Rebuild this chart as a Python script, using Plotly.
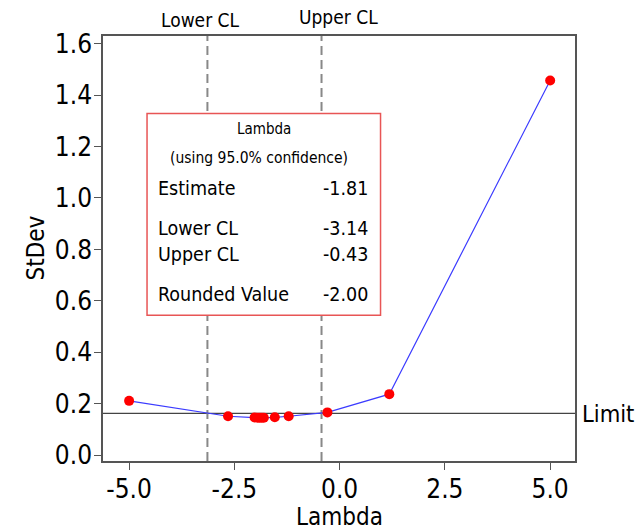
import plotly.graph_objects as go

# Data
lambdas = [-5.0, -2.65, -2.02, -1.95, -1.90, -1.85, -1.80, -1.54, -1.21, -0.29, 1.18, 5.0]
stdevs = [0.211, 0.151, 0.146, 0.145, 0.145, 0.145, 0.145, 0.147, 0.151, 0.166, 0.237, 1.457]
limit = 0.162
lower_cl = -3.14
upper_cl = -0.43
estimate = -1.81
rounded = -2.00
x_ticks = [-5.0, -2.5, 0.0, 2.5, 5.0]
x_ticktext = ["-5.0", "-2.5", "0.0", "2.5", "5.0"]
y_ticks = [0.0, 0.2, 0.4, 0.6, 0.8, 1.0, 1.2, 1.4, 1.6]
y_ticktext = ["0.0", "0.2", "0.4", "0.6", "0.8", "1.0", "1.2", "1.4", "1.6"]
box_labels = ["Estimate", "Lower CL", "Upper CL", "Rounded Value"]
box_values = [estimate, lower_cl, upper_cl, rounded]
x_title = "Lambda"
y_title = "StDev"

FONT = "DejaVu Sans Condensed, Liberation Sans, Arial, sans-serif"
AX = "#555555"

fig = go.Figure()
fig.add_trace(go.Scatter(
    x=lambdas, y=stdevs, mode="lines+markers",
    line=dict(color="#3b3bff", width=1.2),
    marker=dict(color="#ff0000", size=10),
    hoverinfo="x+y",
))

# Limit line
fig.add_shape(type="line", xref="paper", yref="y", x0=0, x1=1, y0=limit, y1=limit,
              line=dict(color="#444444", width=1.3), layer="below")
fig.add_annotation(xref="paper", yref="y", x=1, y=limit, xanchor="left", yanchor="middle",
                   xshift=5, yshift=-1, text="Limit", showarrow=False,
                   font=dict(family=FONT, size=23.5, color="#000"))

# CL dashed lines
for v in (lower_cl, upper_cl):
    fig.add_shape(type="line", xref="x", yref="paper", x0=v, x1=v, y0=0, y1=1,
                  line=dict(color="#888888", width=2, dash="9px,5px"), layer="below")
fig.add_annotation(xref="x", yref="paper", x=lower_cl, y=1, yanchor="bottom", xshift=-7, yshift=3,
                   text="Lower CL", showarrow=False, font=dict(family=FONT, size=19, color="#000"))
fig.add_annotation(xref="x", yref="paper", x=upper_cl, y=1, yanchor="bottom", xshift=17, yshift=6,
                   text="Upper CL", showarrow=False, font=dict(family=FONT, size=19, color="#000"))

# Axis titles
fig.add_annotation(xref="paper", yref="paper", x=0.5, y=0, xanchor="center", yanchor="middle",
                   yshift=-56, text=x_title, showarrow=False,
                   font=dict(family=FONT, size=24, color="#000"))
fig.add_annotation(xref="paper", yref="paper", x=0, y=0.5, xanchor="center", yanchor="middle",
                   xshift=-68, textangle=-90, text=y_title, showarrow=False,
                   font=dict(family=FONT, size=24, color="#000"))

# Info box
fig.add_shape(type="rect", xref="paper", yref="paper", x0=0.0933, x1=0.588, y0=0.343, y1=0.8175,
              line=dict(color="#e85555", width=1.5), fillcolor="white", layer="above")
fig.add_annotation(xref="paper", yref="paper", x=0.341, y=0.7806, text="Lambda", showarrow=False,
                   xanchor="center", yanchor="middle", font=dict(family=FONT, size=15, color="#000"))
fig.add_annotation(xref="paper", yref="paper", x=0.3298, y=0.7124, text="(using 95.0% confidence)",
                   showarrow=False, xanchor="center", yanchor="middle",
                   font=dict(family=FONT, size=15.5, color="#000"))
row_y = [0.6419, 0.5478, 0.4867, 0.3927]
for lab, val, yy in zip(box_labels, box_values, row_y):
    fig.add_annotation(xref="paper", yref="paper", x=0.1117, y=yy, text=lab, showarrow=False,
                       xanchor="left", yanchor="middle", font=dict(family=FONT, size=19.5, color="#000"))
    fig.add_annotation(xref="paper", yref="paper", x=0.5654, y=yy, text=f"{val:.2f}", showarrow=False,
                       xanchor="right", yanchor="middle", font=dict(family=FONT, size=19.5, color="#000"))

fig.update_layout(
    width=636, height=532,
    margin=dict(l=103, r=61, t=36, b=71, autoexpand=False),
    plot_bgcolor="white", paper_bgcolor="white",
    showlegend=False,
    font=dict(family=FONT, color="#000"),
    xaxis=dict(range=[-5.62, 5.59], showline=True, mirror=True, linecolor=AX, linewidth=1.5,
               ticks="outside", ticklen=7, tickcolor=AX, tickwidth=1.2,
               tickvals=x_ticks, ticktext=x_ticktext, showgrid=False, zeroline=False,
               ticklabelstandoff=-3, automargin=False,
               tickfont=dict(family=FONT, size=26, color="#000")),
    yaxis=dict(range=[-0.023, 1.63], showline=True, mirror=True, linecolor=AX, linewidth=1.5,
               ticks="outside", ticklen=7, tickcolor=AX, tickwidth=1.2,
               tickvals=y_ticks, ticktext=y_ticktext, showgrid=False, zeroline=False,
               ticklabelstandoff=-3, automargin=False,
               tickfont=dict(family=FONT, size=26, color="#000")),
)

fig.write_html("out.html")
